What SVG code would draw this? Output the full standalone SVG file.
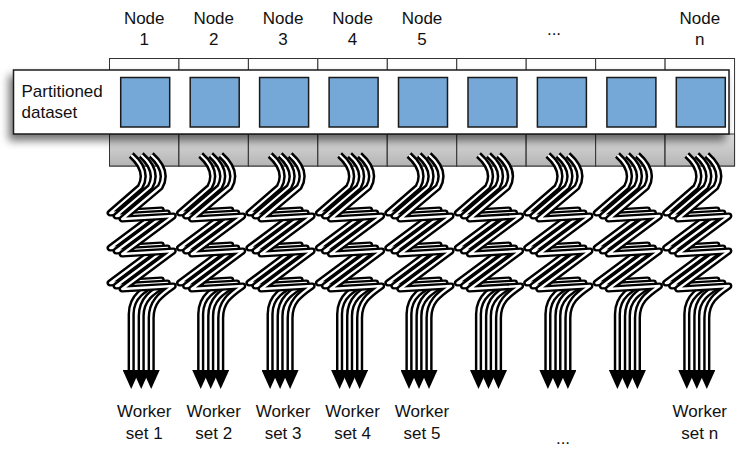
<svg xmlns="http://www.w3.org/2000/svg" xmlns:xlink="http://www.w3.org/1999/xlink" width="740" height="475" viewBox="0 0 740 475">
<style>
.lbl{font-family:"Liberation Sans",Arial,Helvetica,sans-serif;font-size:17px;fill:#111;text-anchor:middle}
.lbl-l{font-family:"Liberation Sans",Arial,Helvetica,sans-serif;font-size:17px;fill:#111}
.col{fill:#fff;stroke:#333;stroke-width:1}
.base{fill:url(#grayGrad);stroke:#333;stroke-width:1}
.part{fill:#75a8d6;stroke:#1a1a1a;stroke-width:1.5}
.panel{fill:#fff;stroke:#1a1a1a;stroke-width:1.5}
.wb{fill:none;stroke:#000;stroke-width:7.2;stroke-linejoin:round;marker-end:url(#ah)}
.ww{fill:none;stroke:#fff;stroke-width:2.3;stroke-linejoin:round}
</style>
<defs>
<linearGradient id="grayGrad" x1="0" y1="0" x2="0" y2="1">
<stop offset="0" stop-color="#dedede"/>
<stop offset="1" stop-color="#b4b4b4"/>
</linearGradient>
<filter id="shadow" x="-10%" y="-30%" width="120%" height="170%">
<feDropShadow dx="-4" dy="6" stdDeviation="4" flood-color="#000" flood-opacity="0.55"/>
</filter>
<marker id="ah" markerUnits="userSpaceOnUse" viewBox="0 -8.5 19 17" refX="0" refY="0" markerWidth="19" markerHeight="17" orient="auto">
<path d="M0,-8.5 L19,0 L0,8.5 Z" fill="#000"/>
</marker>
<path id="w0" d="M -13,155 Q 5,171 -4,187 L -34,213 L 17,210 L -34,248 L 17,245 L -34,283 L 17,280 C 0,289 -13,296 -13,314 L -13,370"/>
<path id="w1" d="M -3,155 Q 15,171 6,187 L -28,216 L 23,213 L -28,251 L 23,248 L -28,286 L 23,283 C 8,292 -3,299 -3,316 L -3,370"/>
<path id="w2" d="M 7,155 Q 25,171 16,187 L -22,219 L 29,216 L -22,254 L 29,251 L -22,289 L 29,286 C 16,295 7,302 7,318 L 7,370"/>
<g id="wires">
<use xlink:href="#w0" class="wb"/><use xlink:href="#w0" class="ww"/>
<use xlink:href="#w1" class="wb"/><use xlink:href="#w1" class="ww"/>
<use xlink:href="#w2" class="wb"/><use xlink:href="#w2" class="ww"/>
</g>
</defs>

<g id="node-1"><rect class="col" x="109.5" y="58.5" width="69.45" height="107.5"/><rect class="base" x="109.5" y="134" width="69.45" height="32"/>
<text class="lbl" x="144.2" y="23.5">Node</text><text class="lbl" x="144.2" y="45">1</text>
<text class="lbl" x="144.2" y="417">Worker</text><text class="lbl" x="144.2" y="439">set 1</text></g>
<g id="node-2"><rect class="col" x="178.95" y="58.5" width="69.45" height="107.5"/><rect class="base" x="178.95" y="134" width="69.45" height="32"/>
<text class="lbl" x="213.7" y="23.5">Node</text><text class="lbl" x="213.7" y="45">2</text>
<text class="lbl" x="213.7" y="417">Worker</text><text class="lbl" x="213.7" y="439">set 2</text></g>
<g id="node-3"><rect class="col" x="248.4" y="58.5" width="69.45" height="107.5"/><rect class="base" x="248.4" y="134" width="69.45" height="32"/>
<text class="lbl" x="283.1" y="23.5">Node</text><text class="lbl" x="283.1" y="45">3</text>
<text class="lbl" x="283.1" y="417">Worker</text><text class="lbl" x="283.1" y="439">set 3</text></g>
<g id="node-4"><rect class="col" x="317.85" y="58.5" width="69.45" height="107.5"/><rect class="base" x="317.85" y="134" width="69.45" height="32"/>
<text class="lbl" x="352.6" y="23.5">Node</text><text class="lbl" x="352.6" y="45">4</text>
<text class="lbl" x="352.6" y="417">Worker</text><text class="lbl" x="352.6" y="439">set 4</text></g>
<g id="node-5"><rect class="col" x="387.3" y="58.5" width="69.45" height="107.5"/><rect class="base" x="387.3" y="134" width="69.45" height="32"/>
<text class="lbl" x="422" y="23.5">Node</text><text class="lbl" x="422" y="45">5</text>
<text class="lbl" x="422" y="417">Worker</text><text class="lbl" x="422" y="439">set 5</text></g>
<g id="node-6"><rect class="col" x="456.75" y="58.5" width="69.45" height="107.5"/><rect class="base" x="456.75" y="134" width="69.45" height="32"/></g>
<g id="node-7"><rect class="col" x="526.2" y="58.5" width="69.45" height="107.5"/><rect class="base" x="526.2" y="134" width="69.45" height="32"/></g>
<g id="node-8"><rect class="col" x="595.65" y="58.5" width="69.45" height="107.5"/><rect class="base" x="595.65" y="134" width="69.45" height="32"/></g>
<g id="node-n"><rect class="col" x="665.1" y="58.5" width="69.45" height="107.5"/><rect class="base" x="665.1" y="134" width="69.45" height="32"/>
<text class="lbl" x="699.8" y="23.5">Node</text><text class="lbl" x="699.8" y="45">n</text>
<text class="lbl" x="699.8" y="417">Worker</text><text class="lbl" x="699.8" y="439">set n</text></g>

<text class="lbl" x="554" y="35">...</text>
<text class="lbl" x="563" y="444">...</text>

<g id="dataset">
<rect class="panel" x="13.5" y="70" width="715.5" height="64" filter="url(#shadow)"/>
<text class="lbl-l" x="21.5" y="96.5">Partitioned</text>
<text class="lbl-l" x="21.5" y="118">dataset</text>
<rect class="part" x="120.7" y="77.5" width="49" height="49.5"/>
<rect class="part" x="190.2" y="77.5" width="49" height="49.5"/>
<rect class="part" x="259.6" y="77.5" width="49" height="49.5"/>
<rect class="part" x="329.1" y="77.5" width="49" height="49.5"/>
<rect class="part" x="398.5" y="77.5" width="49" height="49.5"/>
<rect class="part" x="468" y="77.5" width="49" height="49.5"/>
<rect class="part" x="537.4" y="77.5" width="49" height="49.5"/>
<rect class="part" x="606.9" y="77.5" width="49" height="49.5"/>
<rect class="part" x="676.3" y="77.5" width="49" height="49.5"/>
</g>

<g id="connectors">
<use xlink:href="#wires" x="144.2"/>
<use xlink:href="#wires" x="213.7"/>
<use xlink:href="#wires" x="283.1"/>
<use xlink:href="#wires" x="352.6"/>
<use xlink:href="#wires" x="422"/>
<use xlink:href="#wires" x="491.5"/>
<use xlink:href="#wires" x="560.9"/>
<use xlink:href="#wires" x="630.4"/>
<use xlink:href="#wires" x="699.8"/>
</g>
</svg>
